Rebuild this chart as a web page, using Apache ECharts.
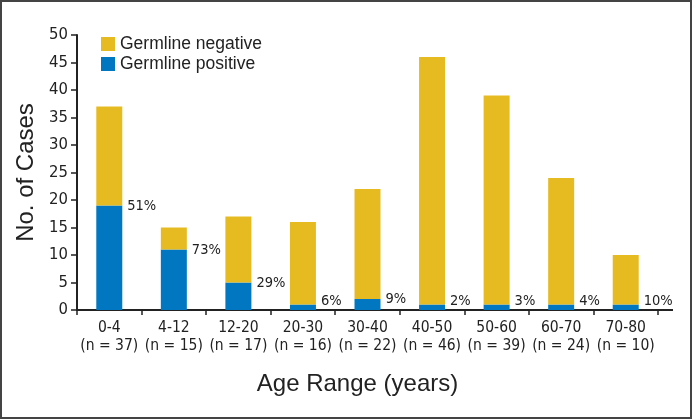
<!DOCTYPE html>
<html><head><meta charset="utf-8">
<script src="https://cdn.jsdelivr.net/npm/echarts@6/dist/echarts.min.js"></script>
<style>html,body{margin:0;padding:0;background:#fff}#c{width:692px;height:419px}</style>
</head><body><div id="c"></div>
<script>
const categories = ['0-4','4-12','12-20','20-30','30-40','40-50','50-60','60-70','70-80'];
const totals = [37,15,17,16,22,46,39,24,10];
const positive = [19,11,5,1,2,1,1,1,1];
const negative = [18,4,12,15,20,45,38,23,9];
const percentLabels = ['51%','73%','29%','6%','9%','2%','3%','4%','10%'];
const yTicks = [0,5,10,15,20,25,30,35,40,45,50];

const FONT = '"DejaVu Sans Condensed",sans-serif';
const TFONT = '"Liberation Sans","Noto Sans",sans-serif';
const YELLOW = '#E6BB22', BLUE = '#0077C0';
const chart = echarts.init(document.getElementById('c'));
chart.setOption({
  animation:false,
  backgroundColor:'#fff',
  grid:{left:77,right:34,top:35,bottom:109,containLabel:false},
  legend:{
    left:96, top:30, orient:'vertical', itemWidth:14, itemHeight:14, itemGap:2,
    icon:'rect',
    textStyle:{fontFamily:TFONT,fontSize:17.5,color:'#222'},
    data:['Germline negative','Germline positive']
  },
  xAxis:{
    type:'category', data:categories.map((c,i)=>c+'\n(n = '+totals[i]+')'),
    axisLine:{lineStyle:{color:'#222',width:2}},
    axisTick:{show:true,length:5,lineStyle:{color:'#222',width:1.5}},
    axisLabel:{interval:0,fontFamily:FONT,fontSize:15.5,color:'#222',margin:9,lineHeight:18},
    name:'Age Range (years)', nameLocation:'middle', nameGap:62,
    nameTextStyle:{fontFamily:TFONT,fontSize:24,color:'#222',padding:[0,20,0,0]}
  },
  yAxis:{
    type:'value', min:yTicks[0], max:yTicks[yTicks.length-1], interval:5,
    axisLine:{show:true,lineStyle:{color:'#222',width:2}},
    axisTick:{show:true,length:6,lineStyle:{color:'#222',width:1.5}},
    axisLabel:{fontFamily:FONT,fontSize:16.5,color:'#222',margin:9},
    splitLine:{show:false},
    name:'No. of Cases', nameLocation:'middle', nameGap:37, nameRotate:90,
    nameTextStyle:{fontFamily:TFONT,fontSize:24,color:'#222'}
  },
  series:[
    {name:'Germline positive', type:'bar', stack:'a', barWidth:26,
     data:positive.map(v=>({value:v,label:{offset:[5, v*5.5<9 ? -(9-v*5.5) : 0.5]}})),
     itemStyle:{color:BLUE},
     label:{show:true, position:['100%',0], align:'left', verticalAlign:'middle',
       formatter:p=>percentLabels[p.dataIndex], fontFamily:FONT, fontSize:14.5, color:'#222'}},
    {name:'Germline negative', type:'bar', stack:'a', data:negative, barWidth:26,
     itemStyle:{color:YELLOW}}
  ],
  graphic:[
    {type:'rect', shape:{x:1,y:1,width:690,height:417}, style:{fill:'none',stroke:'#444',lineWidth:2}, silent:true},
    {type:'line', shape:{x1:657,y1:310,x2:673,y2:310}, style:{stroke:'#222',lineWidth:2}, silent:true}
  ]
});
</script></body></html>
